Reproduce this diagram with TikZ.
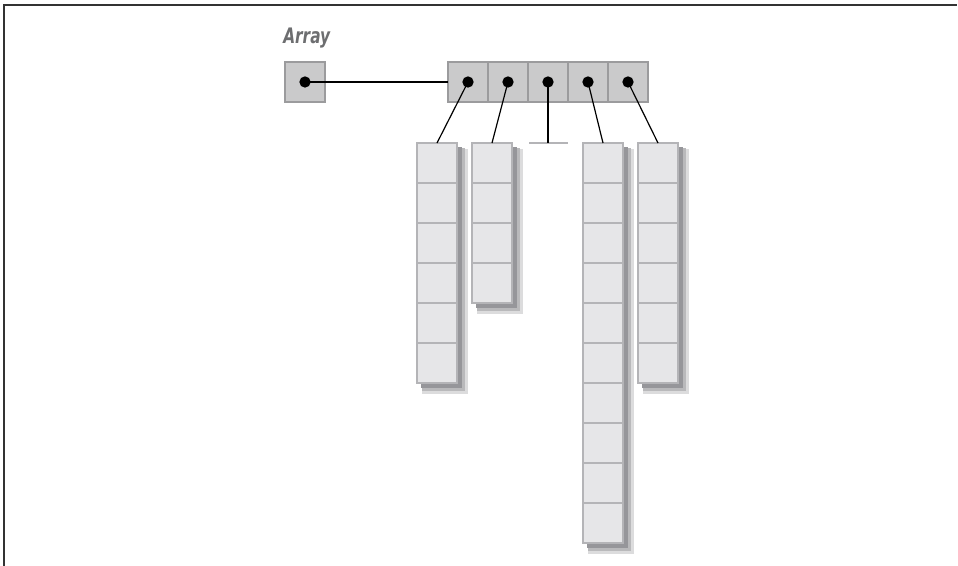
\documentclass[tikz,border=0pt]{standalone}
\usepackage{fontspec}
\newfontfamily\labelfont{DejaVu Sans Condensed}
\definecolor{slotfill}{HTML}{E6E6E8}
\definecolor{slotedge}{HTML}{B4B4B7}
\definecolor{reffill}{HTML}{CACACB}
\definecolor{refedge}{HTML}{9B9B9D}
\definecolor{labelgrey}{HTML}{6D6E70}
\definecolor{shadeA}{HTML}{DCDCDD}
\definecolor{shadeB}{HTML}{B9B9BB}
\definecolor{shadeC}{HTML}{96969A}
\begin{document}
\begin{tikzpicture}[x=0.75pt,y=-0.75pt,
  slot/.style={draw=slotedge, fill=slotfill, line width=1.5pt, minimum size=30pt,
    inner sep=0pt, outer sep=0pt, anchor=north west},
  refcell/.style={draw=refedge, fill=reffill, line width=1.5pt, minimum size=30pt,
    inner sep=0pt, outer sep=0pt, anchor=north west},
  dot/.style={circle, fill=black, inner sep=0pt, minimum size=8.5pt},
  link/.style={line width=0.9pt, draw=black},
  nilbar/.style={line width=1.5pt, draw=slotedge},
  frame/.style={line width=1.5pt, draw=black!80}]
\useasboundingbox (0,0) rectangle (958,566);

% page frame
\draw[frame] (4,566) -- (4,5) -- (957,5);

% caption
\node[anchor=base west, text=labelgrey, inner sep=0pt] (title) at (283,44)
  {\scalebox{0.8}[1]{\labelfont\bfseries\itshape\fontsize{16}{18}\selectfont Array}};

% the reference variable and the top-level array
\node[refcell] (a0) at (285,62) {};
\foreach \k in {1,...,5}
  \node[refcell] (a\k) at (408+40*\k,62) {};

% drop shadows behind the sub-arrays
\foreach \x/\n in {417/6,472/4,583/10,638/6} {
  \fill[shadeA] (\x+5,149) rectangle (\x+51,143+40*\n+11);
  \fill[shadeB] (\x+5,148) rectangle (\x+48,143+40*\n+8);
  \fill[shadeC] (\x+4,147) rectangle (\x+45,143+40*\n+5);
}

% sub-arrays
\foreach \x/\n/\c in {417/6/1,472/4/2,583/10/4,638/6/5}
  \foreach \i in {1,...,\n}
    \node[slot] (c\c-\i) at (\x,103+40*\i) {};

% null entry
\coordinate (nil) at (548,143);
\coordinate (nilL) at (529,143);
\coordinate (nilR) at (568,143);
\draw[nilbar] (nilL) -- (nilR);

% pointer dots
\node[dot] (d0) at (a0.center) {};
\foreach \k in {1,...,5}
  \node[dot] (d\k) at (a\k.center) {};

% pointers
\draw[link] (d0.center) -- (a1.west);
\draw[link] (d1.center) -- (c1-1.north);
\draw[link] (d2.center) -- (c2-1.north);
\draw[link] (d3.center) -- (nil);
\draw[link] (d4.center) -- (c4-1.north);
\draw[link] (d5.center) -- (c5-1.north);
\end{tikzpicture}
\end{document}
